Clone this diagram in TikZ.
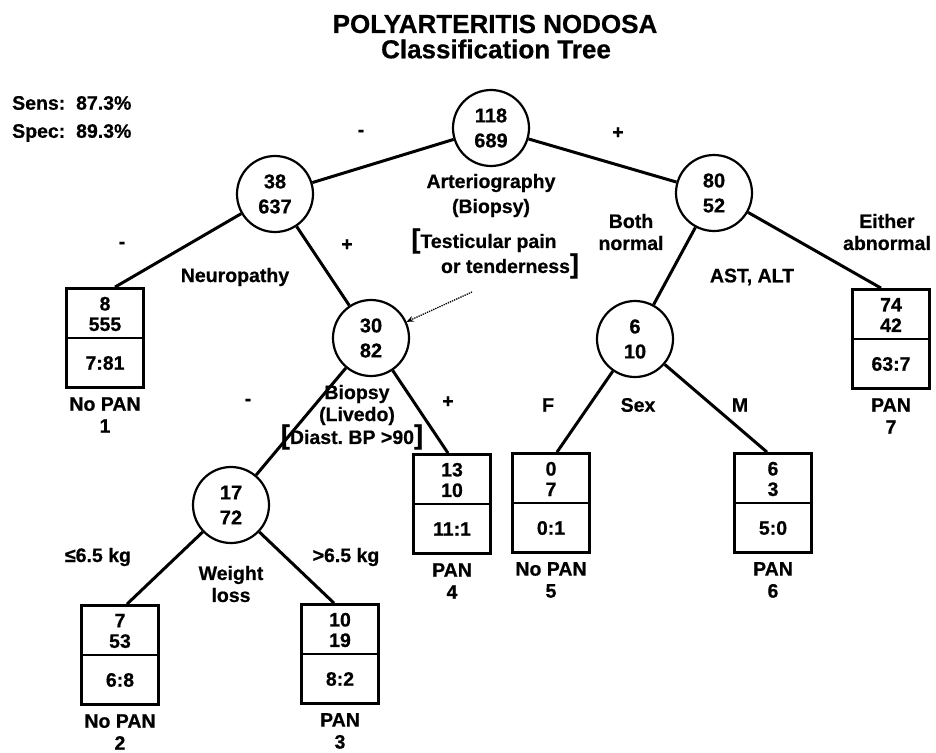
\documentclass[tikz,border=0pt]{standalone}
\usepackage{fontspec}
\setmainfont{Liberation Sans}[BoldFeatures={FakeBold=0.6}]
\usetikzlibrary{arrows.meta}
\newcommand\leaf[8]{%
  \node[leafbox] (#1) at (#2,#3+49) {};
  \draw[divider] (#1.west) -- (#1.east);
  \node[tight] (#1t) at (#2,#3+25) {#4\\#5};
  \node (#1r) at (#2,#3+74) {#6};
  \node (#1l) at (#2,#3+126) {#7\\#8};
}
\newcommand\bigbr[1]{{\fontsize{27}{27}\selectfont #1}}
\begin{document}
\begin{tikzpicture}[x=1pt,y=-1pt,
  every node/.style={font=\bfseries\fontsize{19.5}{22}\selectfont, inner sep=0pt, align=center},
  tight/.style={font=\bfseries\fontsize{19.5}{20.5}\selectfont},
  split/.style={circle, draw, line width=2.2pt, minimum size=76pt, font=\bfseries\fontsize{20}{25}\selectfont},
  leafbox/.style={draw, line width=2.8pt, minimum width=77pt, minimum height=99pt},
  divider/.style={line width=2.4pt},
  edge/.style={line width=3pt},
  titlefont/.style={font=\bfseries\fontsize{26}{30}\selectfont},
  pointer/.style={densely dotted, line width=1.3pt, -{Stealth[length=7pt,width=6pt]}}]
\useasboundingbox[fill=white] (0,0) rectangle (936,752);

% title
\node[titlefont] (t1) at (495,24) {POLYARTERITIS NODOSA};
\node[titlefont] (t2) at (496,49) {Classification Tree};
\node[anchor=west] (sens) at (12,103) {Sens:\ \ 87.3\%};
\node[anchor=west] (spec) at (12,133) {Spec:\ \ 89.3\%};

% split nodes
\node[split] (root) at (491,128) {118\\689};
\node[split] (c38) at (275,194) {38\\637};
\node[split] (c80) at (714,193) {80\\52};
\node[split] (c30) at (371,338) {30\\82};
\node[split] (c6) at (635,339) {6\\10};
\node[split] (c17) at (231,505) {17\\72};

% leaves
\leaf{b1}{105}{289}{8}{555}{7:81}{No PAN}{1}
\leaf{b2}{120}{606}{7}{53}{6:8}{No PAN}{2}
\leaf{b3}{340}{605}{10}{19}{8:2}{PAN}{3}
\leaf{b4}{452}{455}{13}{10}{11:1}{PAN}{4}
\leaf{b5}{551}{454}{0}{7}{0:1}{No PAN}{5}
\leaf{b6}{773}{454}{6}{3}{5:0}{PAN}{6}
\leaf{b7}{891}{290}{74}{42}{63:7}{PAN}{7}

% edges
\draw[edge] (root) -- (c38);
\draw[edge] (root) -- (c80);
\draw[edge] (c38) -- ([xshift=10pt]b1.north);
\draw[edge] (c38) -- (c30);
\draw[edge] (c80) -- (c6);
\draw[edge] (c80) -- ([xshift=-10pt]b7.north);
\draw[edge] (c30) -- (c17);
\draw[edge] (c30) -- ([xshift=-4pt]b4.north);
\draw[edge] (c6) -- ([xshift=6pt]b5.north);
\draw[edge] (c6) -- ([xshift=-6pt]b6.north);
\draw[edge] (c17) -- ([xshift=7pt]b2.north);
\draw[edge] (c17) -- ([xshift=-6pt]b3.north);

% labels at root
\node (m0) at (361,133) {-};
\node (p0) at (618,133) {+};
\node (art) at (491,183) {Arteriography};
\node (bio) at (491,208) {(Biopsy)};
\node (tes1) at (484,241) {\bigbr{[}Testicular pain};
\node (tes2) at (510,266) {or tenderness\bigbr{]}};
\coordinate (dotstart) at (472,292);
\draw[pointer] (dotstart) -- (c30);

% labels at c38
\node (m1) at (122,245) {-};
\node (neu) at (235,277) {Neuropathy};
\node (p1) at (347,245) {+};

% labels at c80
\node (both) at (631,232) {Both\\normal};
\node (either) at (887,232) {Either\\abnormal};
\node (ast) at (752,277) {AST, ALT};

% labels at c30
\node (m2) at (248,402) {-};
\node (bio2) at (357,405) {Biopsy\\(Livedo)};
\node (dia) at (352,437) {\bigbr{[}Diast.\ BP >90\bigbr{]}};
\node (p2) at (448,402) {+};

% labels at c6
\node (f) at (548,405) {F};
\node (sex) at (638,405) {Sex};
\node (m) at (740,405) {M};

% labels at c17
\node (le) at (98,557) {≤6.5 kg};
\node (wl) at (231,584) {Weight\\loss};
\node (gt) at (346,557) {>6.5 kg};
\end{tikzpicture}
\end{document}
